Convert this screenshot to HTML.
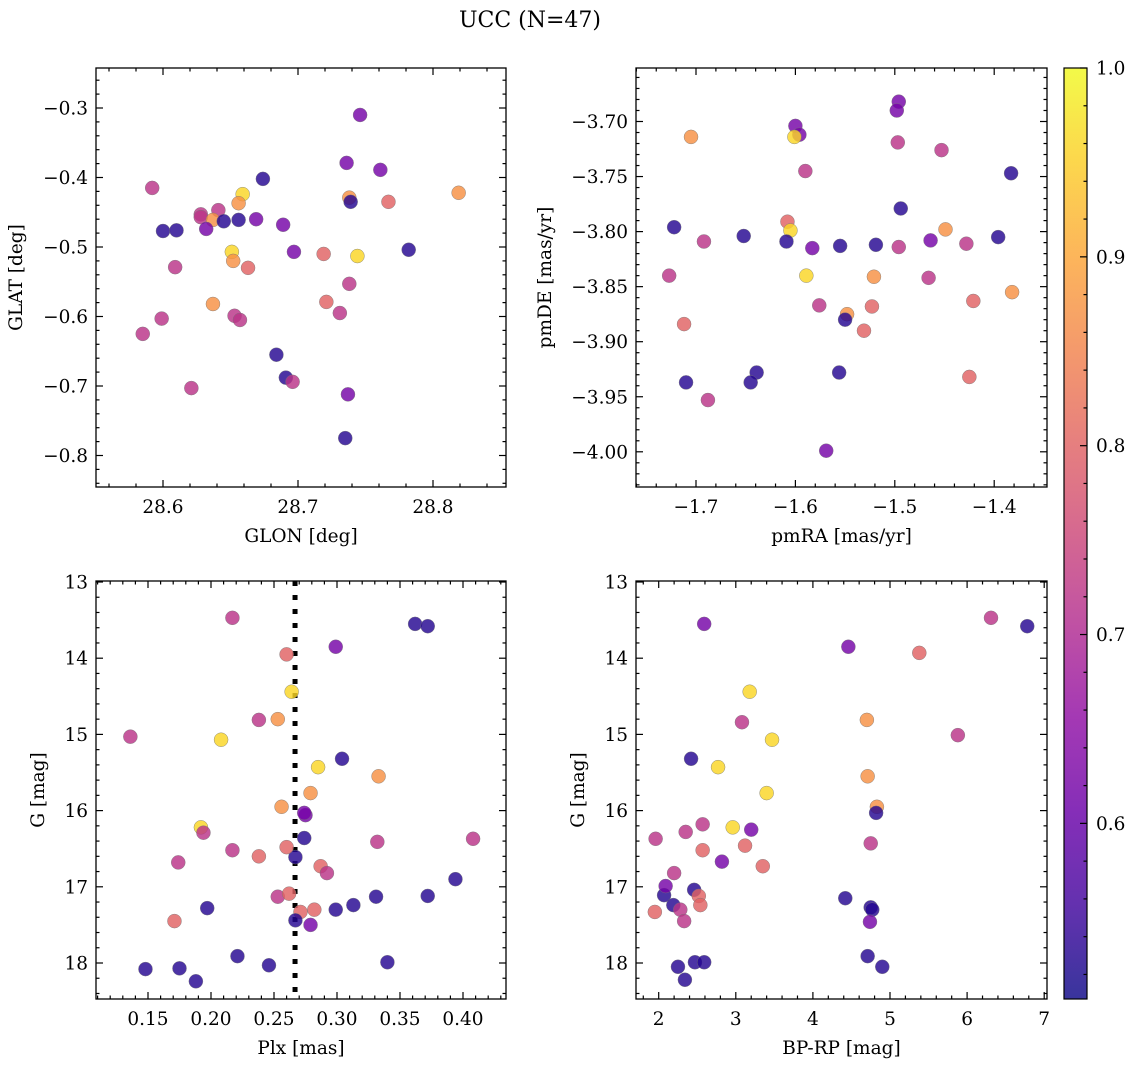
<!DOCTYPE html>
<html><head><meta charset="utf-8"><style>
html,body{margin:0;padding:0;background:#fff;}
svg{display:block;font-family:"DejaVu Serif","Liberation Serif",serif;}
</style></head><body>
<svg id="fig" width="1136" height="1067" viewBox="0 0 1136 1067">
<text x="530" y="27" font-size="22" text-anchor="middle">UCC (N=47)</text>
</svg>
<script>
// ---- data ----
const glon = [28.746,28.736,28.761,28.674,28.592,28.659,28.819,28.738,28.739,28.767,28.656,28.641,28.628,28.628,28.637,28.645,28.656,28.669,28.600,28.610,28.632,28.689,28.651,28.697,28.719,28.782,28.744,28.652,28.663,28.609,28.738,28.637,28.721,28.653,28.657,28.731,28.599,28.585,28.684,28.691,28.696,28.621,28.737,28.735];
const glat = [-0.310,-0.379,-0.389,-0.402,-0.415,-0.424,-0.422,-0.429,-0.435,-0.435,-0.437,-0.447,-0.453,-0.457,-0.461,-0.463,-0.461,-0.460,-0.477,-0.476,-0.474,-0.468,-0.507,-0.507,-0.510,-0.504,-0.513,-0.520,-0.530,-0.529,-0.553,-0.582,-0.579,-0.599,-0.605,-0.595,-0.603,-0.625,-0.655,-0.688,-0.694,-0.703,-0.712,-0.775];
const prob1 = [0.62,0.62,0.62,0.53,0.72,0.96,0.87,0.87,0.53,0.80,0.87,0.72,0.72,0.72,0.87,0.53,0.53,0.62,0.53,0.53,0.62,0.62,0.96,0.62,0.80,0.53,0.96,0.87,0.80,0.72,0.72,0.87,0.80,0.72,0.72,0.72,0.72,0.72,0.53,0.53,0.72,0.72,0.62,0.53];

const pmra = [-1.496,-1.498,-1.600,-1.596,-1.705,-1.601,-1.497,-1.453,-1.590,-1.383,-1.494,-1.608,-1.449,-1.605,-1.722,-1.652,-1.692,-1.609,-1.496,-1.428,-1.519,-1.464,-1.396,-1.555,-1.583,-1.589,-1.521,-1.727,-1.466,-1.382,-1.421,-1.576,-1.548,-1.550,-1.523,-1.712,-1.531,-1.425,-1.710,-1.639,-1.645,-1.556,-1.688,-1.569];
const pmde = [-3.682,-3.690,-3.704,-3.712,-3.714,-3.714,-3.719,-3.726,-3.745,-3.747,-3.779,-3.791,-3.798,-3.799,-3.796,-3.804,-3.809,-3.809,-3.814,-3.811,-3.812,-3.808,-3.805,-3.813,-3.815,-3.840,-3.841,-3.840,-3.842,-3.855,-3.863,-3.867,-3.875,-3.880,-3.868,-3.884,-3.890,-3.932,-3.937,-3.928,-3.937,-3.928,-3.953,-3.999];
const prob2 = [0.62,0.62,0.62,0.62,0.87,0.96,0.72,0.72,0.72,0.53,0.53,0.80,0.87,0.96,0.53,0.53,0.72,0.53,0.72,0.72,0.53,0.62,0.53,0.53,0.62,0.96,0.87,0.72,0.72,0.87,0.80,0.72,0.87,0.53,0.80,0.80,0.80,0.80,0.53,0.53,0.53,0.53,0.72,0.62];

const plx = [0.136,0.217,0.362,0.372,0.299,0.260,0.264,0.238,0.253,0.208,0.285,0.304,0.333,0.279,0.256,0.275,0.274,0.192,0.194,0.274,0.332,0.408,0.267,0.217,0.238,0.260,0.174,0.287,0.292,0.394,0.197,0.253,0.262,0.282,0.271,0.267,0.299,0.313,0.372,0.331,0.171,0.279,0.221,0.246,0.340,0.148,0.175,0.188];
const gmag3 = [15.03,13.47,13.55,13.58,13.85,13.95,14.44,14.81,14.80,15.07,15.43,15.32,15.55,15.77,15.95,16.06,16.03,16.22,16.29,16.36,16.41,16.37,16.61,16.52,16.60,16.48,16.68,16.73,16.82,16.90,17.28,17.13,17.09,17.30,17.33,17.44,17.30,17.24,17.12,17.13,17.45,17.50,17.91,18.03,17.99,18.08,18.07,18.24];
const prob3 = [0.72,0.72,0.53,0.53,0.62,0.80,0.96,0.72,0.87,0.96,0.96,0.53,0.87,0.87,0.87,0.62,0.62,0.96,0.72,0.53,0.72,0.72,0.53,0.72,0.80,0.80,0.72,0.80,0.72,0.53,0.53,0.72,0.80,0.80,0.80,0.53,0.53,0.53,0.53,0.53,0.80,0.62,0.53,0.53,0.53,0.53,0.53,0.53];
const plxLine = 0.2667;

const bprp = [6.31,6.78,2.59,4.46,5.38,3.18,4.70,5.88,3.08,3.47,2.77,2.42,4.71,3.40,4.83,2.57,4.82,2.96,3.20,2.35,1.96,4.75,2.57,3.12,3.35,2.20,2.82,2.46,2.07,2.09,2.52,2.54,2.19,2.28,2.33,1.95,4.42,4.75,4.77,4.74,4.71,4.90,2.47,2.59,2.25,2.34];
const gmag4 = [13.47,13.58,13.55,13.85,13.93,14.44,14.81,15.01,14.84,15.07,15.43,15.32,15.55,15.77,15.95,16.18,16.03,16.22,16.25,16.28,16.37,16.43,16.52,16.46,16.73,16.82,16.67,17.04,17.11,16.99,17.12,17.24,17.24,17.30,17.45,17.33,17.15,17.27,17.30,17.46,17.91,18.05,17.99,17.99,18.05,18.22];
const prob4 = [0.72,0.53,0.62,0.62,0.80,0.96,0.87,0.72,0.72,0.96,0.96,0.53,0.87,0.96,0.87,0.72,0.53,0.96,0.62,0.72,0.72,0.72,0.80,0.80,0.80,0.72,0.62,0.53,0.53,0.62,0.80,0.80,0.53,0.72,0.72,0.80,0.53,0.53,0.53,0.62,0.53,0.53,0.53,0.53,0.53,0.53];

const cbMin = 0.507, cbMax = 1.0;
const cbTicks = [0.6,0.7,0.8,0.9,1.0];

// ---- helpers ----
const NS = 'http://www.w3.org/2000/svg';
const svg = document.getElementById('fig');
const FS = 18.5;
function mk(tag, attrs, parent){const e=document.createElementNS(NS,tag);for(const k in attrs)e.setAttribute(k,attrs[k]);(parent||svg).appendChild(e);return e;}
const stops=[[0,[13,8,135]],[0.1,[65,4,157]],[0.2,[106,0,168]],[0.3,[143,13,164]],[0.4,[177,42,144]],[0.5,[204,71,120]],[0.6,[225,100,98]],[0.7,[242,132,75]],[0.8,[252,166,54]],[0.9,[252,206,37]],[1,[240,249,33]]];
function plasma(t){t=Math.max(0,Math.min(1,t));for(let i=1;i<stops.length;i++){if(t<=stops[i][0]){const a=stops[i-1],b=stops[i];const f=(t-a[0])/(b[0]-a[0]);const c=a[1].map((v,j)=>Math.round(v+(b[1][j]-v)*f));return 'rgb('+c.join(',')+')';}}return 'rgb(240,249,33)';}
function cmap(p){return plasma((p-cbMin)/(cbMax-cbMin));}
function fmt(v,d){let s=v.toFixed(d);return s.replace('-','\u2212');}

function panel(cfg){
  const {name,L,R,T,B,x0,x1,y0,y1,xMaj,xMin,yMaj,yMin,xd,yd,xlabel,ylabel,ylx,invY} = cfg;
  const g = mk('g',{});
  
  
  const sx = v => L + (v-x0)/(x1-x0)*(R-L);
  const sy = v => invY ? T + (v-y0)/(y1-y0)*(B-T) : B - (v-y0)/(y1-y0)*(B-T);
  const tg = mk('g',{stroke:'#000','stroke-width':1.2},g);
  
  
  const eps=1e-9;
  for(let v=Math.ceil(x0/xMin-eps)*xMin; v<=x1+eps; v+=xMin){const px=sx(v);const maj=Math.abs(v/xMaj-Math.round(v/xMaj))<1e-6;const l=maj?7:3.5;
    mk('line',{x1:px,x2:px,y1:B,y2:B-l},tg);mk('line',{x1:px,x2:px,y1:T,y2:T+l},tg);
    if(maj){const t=mk('text',{x:px,y:B+26,'font-size':FS,'text-anchor':'middle',stroke:'none',fill:'#000'},g);t.textContent=fmt(v,xd);
      
      }}
  const ya=Math.min(y0,y1), yb=Math.max(y0,y1);
  for(let v=Math.ceil(ya/yMin-eps)*yMin; v<=yb+eps; v+=yMin){const py=sy(v);const maj=Math.abs(v/yMaj-Math.round(v/yMaj))<1e-6;const l=maj?7:3.5;
    mk('line',{x1:L,x2:L+l,y1:py,y2:py},tg);mk('line',{x1:R,x2:R-l,y1:py,y2:py},tg);
    if(maj){const t=mk('text',{x:L-8,y:py+6.5,'font-size':FS,'text-anchor':'end',stroke:'none',fill:'#000'},g);t.textContent=fmt(v,yd);
      
      }}
  const fr = mk('rect',{x:L,y:T,width:R-L,height:B-T,fill:'none',stroke:'#000','stroke-width':1.3},g);
  
  
  const xl = mk('text',{x:(L+R)/2,y:B+55,'font-size':FS,'text-anchor':'middle'},g); xl.textContent=xlabel;
  
  
  const cy=(T+B)/2;
  const yl = mk('text',{x:ylx,y:cy,'font-size':FS,'text-anchor':'middle',transform:'rotate(-90 '+ylx+' '+cy+')'},g); yl.textContent=ylabel;
  
  
  return {g,sx,sy};
}
function scatter(p, xs, ys, ps, name){
  const cg = mk('g',{},p.g);
  
  
  for(let i=0;i<xs.length;i++){
    const c = mk('circle',{cx:p.sx(xs[i]),cy:p.sy(ys[i]),r:7,fill:cmap(ps[i]),'fill-opacity':0.82,stroke:'#777','stroke-width':0.5,'stroke-opacity':0.8},cg);
    
    
  }
}

const p1 = panel({name:'glon-glat-panel',L:96,R:506,T:68,B:487,x0:28.6-67/1350,x1:28.6+343/1350,y0:-0.3-379/695,y1:-0.3+40/695,xMaj:0.1,xMin:0.02,yMaj:0.1,yMin:0.02,xd:1,yd:1,xlabel:'GLON [deg]',ylabel:'GLAT [deg]',ylx:22});
scatter(p1, glon, glat, prob1, 'glon-glat');

const p2 = panel({name:'pm-panel',L:636,R:1047,T:68,B:487,x0:-1.7-60/994,x1:-1.7+351/994,y0:-3.70-365.5/1101,y1:-3.70+53.5/1101,xMaj:0.1,xMin:0.02,yMaj:0.05,yMin:0.01,xd:1,yd:2,xlabel:'pmRA [mas/yr]',ylabel:'pmDE [mas/yr]',ylx:551});
scatter(p2, pmra, pmde, prob2, 'pm');

const p3 = panel({name:'plx-g-panel',L:96,R:506,T:581,B:999,x0:0.15-52/1260,x1:0.15+358/1260,y0:13-1/76.2,y1:13+417/76.2,xMaj:0.05,xMin:0.01,yMaj:1,yMin:0.2,xd:2,yd:0,xlabel:'Plx [mas]',ylabel:'G [mag]',ylx:44,invY:true});
const dl = mk('line',{x1:p3.sx(plxLine),x2:p3.sx(plxLine),y1:581,y2:999,stroke:'#000','stroke-width':5,'stroke-dasharray':'5 9'},p3.g);


scatter(p3, plx, gmag3, prob3, 'plx-g');

const p4 = panel({name:'cmd-panel',L:636,R:1047,T:581,B:999,x0:2-22.7/77.1,x1:2+388.3/77.1,y0:13-1/76.2,y1:13+417/76.2,xMaj:1,xMin:0.2,yMaj:1,yMin:0.2,xd:0,yd:0,xlabel:'BP-RP [mag]',ylabel:'G [mag]',ylx:584,invY:true});
scatter(p4, bprp, gmag4, prob4, 'cmd');

// colorbar
const cb = mk('g',{});


const defs = mk('defs',{},cb);
const gr = mk('linearGradient',{id:'cbg',x1:0,y1:1,x2:0,y2:0},defs);
for(let i=0;i<=20;i++){mk('stop',{offset:(i/20),'stop-color':plasma(i/20),'stop-opacity':0.82},gr);}
const CL=1064,CR=1087,CT=68,CB=999;
mk('rect',{x:CL,y:CT,width:CR-CL,height:CB-CT,fill:'url(#cbg)',stroke:'#000','stroke-width':1.2},cb);
const cys = v => CB - (v-cbMin)/(cbMax-cbMin)*(CB-CT);
for(let v=0.52; v<=1.0001; v+=0.02){const y=cys(v);const maj=Math.abs(v*10-Math.round(v*10))<1e-6;mk('line',{x1:CR,x2:CR-(maj?7:3.5),y1:y,y2:y,stroke:'#000','stroke-width':1.2},cb);}
cbTicks.forEach(v=>{const t=mk('text',{x:CR+9,y:cys(v)+6.5,'font-size':FS},cb);t.textContent=v.toFixed(1);
  
  });
</script>
</body></html>
